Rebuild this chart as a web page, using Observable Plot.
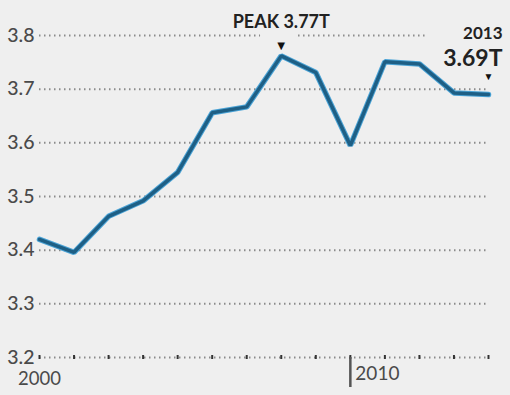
<!DOCTYPE html>
<html>
<head>
<meta charset="utf-8">
<script src="https://cdn.jsdelivr.net/npm/d3@7"></script>
<script src="https://cdn.jsdelivr.net/npm/@observablehq/plot@0.6"></script>
<style>
  html, body { margin: 0; padding: 0; background: #efefef; }
  #chart svg { display: block; background: #efefef; }
</style>
</head>
<body>
<div id="chart"></div>
<script>
// Data
const years = [2000, 2001, 2002, 2003, 2004, 2005, 2006, 2007, 2008, 2009, 2010, 2011, 2012, 2013];
const values = [3.42, 3.396, 3.463, 3.492, 3.545, 3.656, 3.667, 3.762, 3.731, 3.595, 3.751, 3.747, 3.693, 3.690];
const yTicks = [3.2, 3.3, 3.4, 3.5, 3.6, 3.7, 3.8];
const xLabelYears = [2000, 2009];
const xLabelTexts = ["2000", "2010"];
const peakYear = 2007;
const peakLabel = "PEAK 3.77T";
const lastYear = 2013;
const lastLabelTop = "2013";
const lastLabelBottom = "3.69T";

const data = years.map((y, i) => ({year: y, value: values[i]}));
const font = "Lato, 'Liberation Sans', sans-serif";

// grid segments (3.8 line is interrupted by annotations)
const grid = [];
yTicks.forEach(t => {
  if (t === 3.8) {
    grid.push({y: t, x1: 2000, x2: 2006.4});
    grid.push({y: t, x1: 2007.5, x2: 2011.23});
  } else {
    grid.push({y: t, x1: 2000, x2: 2013});
  }
});

const chart = Plot.plot({
  width: 510,
  height: 395,
  marginLeft: 39,
  marginRight: 22,
  marginTop: 35,
  marginBottom: 38,
  style: {background: "#efefef", fontFamily: font},
  x: {domain: [2000, 2013]},
  y: {domain: [3.2, 3.8]},
  marks: [
    Plot.ruleY(grid, {y: "y", x1: "x1", x2: "x2", stroke: "#8a8a8a", strokeWidth: 2, strokeDasharray: "1.5,3.5"}),
    Plot.axisY({ticks: yTicks, tickSize: 0, tickPadding: 5, tickFormat: d => d.toFixed(1), fontSize: 19.5, fill: "#4a4a4a", fontWeight: 500, letterSpacing: "-0.9px"}),
    Plot.axisX({ticks: years, tickSize: 4, tickFormat: () => "", stroke: "#333", strokeWidth: 2, anchor: "bottom", dy: -2}),
    Plot.axisX({ticks: [xLabelYears[1]], tickSize: 30, tickFormat: () => "", stroke: "#555", strokeWidth: 2.5, anchor: "bottom"}),
    Plot.text([0], {x: () => xLabelYears[0], frameAnchor: "bottom", dy: 27, text: () => xLabelTexts[0], fontSize: 18.5, fill: "#4a4a4a", textAnchor: "middle", letterSpacing: "-0.4px"}),
    Plot.text([0], {x: () => xLabelYears[1], frameAnchor: "bottom", dy: 22, dx: 5, text: () => xLabelTexts[1], fontSize: 19, fill: "#4a4a4a", textAnchor: "start", letterSpacing: "-0.5px"}),
    Plot.line(data, {x: "year", y: "value", stroke: "#4aa3d6", strokeWidth: 5.5, strokeLinejoin: "miter"}),
    Plot.line(data, {x: "year", y: "value", stroke: "#1e5f85", strokeWidth: 3.5, strokeLinejoin: "miter"}),
    // peak annotation
    Plot.text([0], {x: () => peakYear, frameAnchor: "top", dy: -20, text: () => peakLabel, fontSize: 18, fontWeight: 700, fill: "#222", letterSpacing: "-0.6px"}),
    Plot.text([0], {x: () => peakYear, frameAnchor: "top", dy: 5, text: () => "▼", fontSize: 13, fill: "#111"}),
    // last annotation
    Plot.text([0], {x: () => lastYear, frameAnchor: "top", dy: -9, dx: 14, textAnchor: "end", text: () => lastLabelTop, fontSize: 17, fontWeight: 700, fill: "#222", letterSpacing: "-0.6px"}),
    Plot.text([0], {x: () => lastYear, frameAnchor: "top", dy: 14, dx: 14, textAnchor: "end", text: () => lastLabelBottom, fontSize: 23, fontWeight: 700, fill: "#222", letterSpacing: "-0.8px"}),
    Plot.text([0], {x: () => lastYear, frameAnchor: "top", dy: 37, text: () => "▼", fontSize: 10, fill: "#111"})
  ]
});
document.getElementById("chart").appendChild(chart);
</script>
</body>
</html>
